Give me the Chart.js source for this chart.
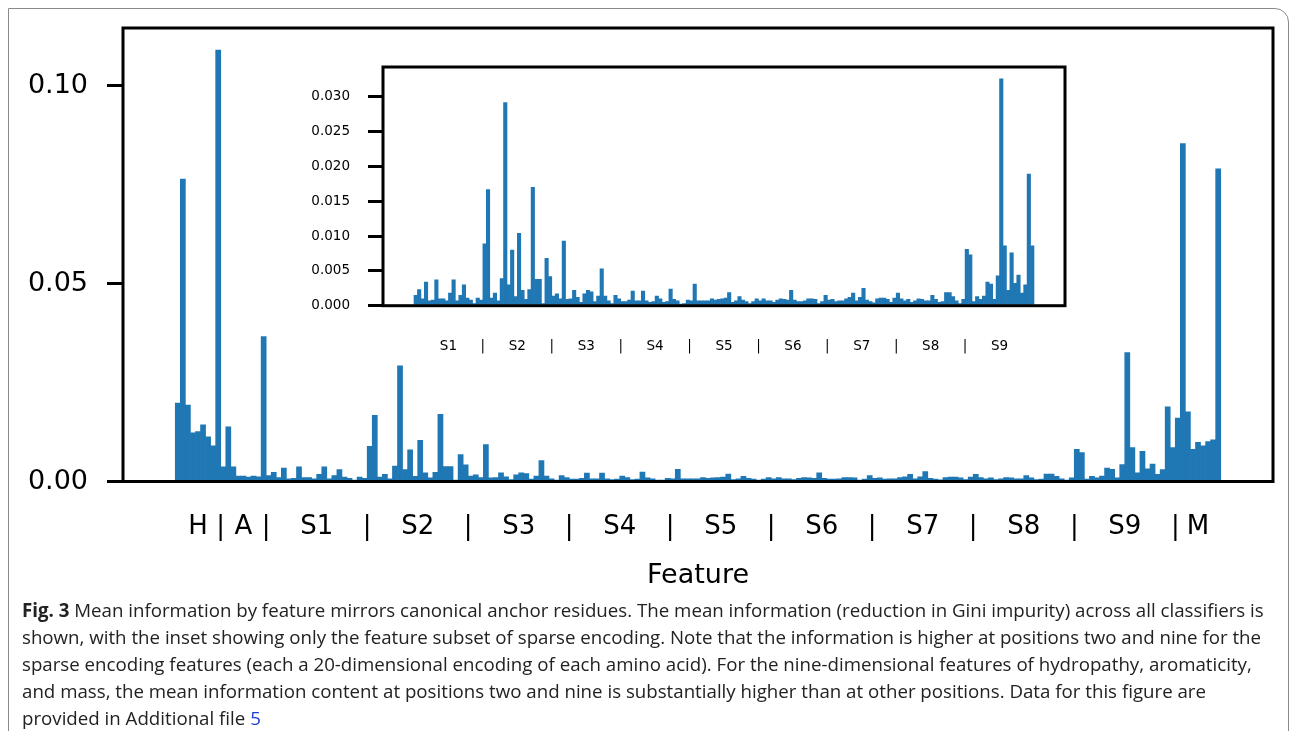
<!DOCTYPE html>
<html>
<head>
<meta charset="utf-8">
<script src="https://cdn.jsdelivr.net/npm/chart.js@4"></script>
<style>
  body { margin: 0; background: #fff; width: 1290px; height: 731px; overflow: hidden; position: relative; }
  #frame { position: absolute; left: 8px; top: 8px; width: 1279px; height: 760px; border: 1px solid #8a8a8a; border-top-right-radius: 14px; }
  #main, #inset { position: absolute; left: 0; top: 0; }
  #caption { position: absolute; left: 22px; top: 596px; font-family: "Open Sans", sans-serif; font-size: 18.7px; line-height: 27px; color: #222; white-space: nowrap; }
  #caption a { color: #1a3fd6; text-decoration: none; }
</style>
</head>
<body>
<div id="frame"></div>
<canvas id="main" width="1290" height="600"></canvas>
<canvas id="inset" width="1290" height="380"></canvas>
<div id="caption">
<b>Fig. 3</b> Mean information by feature mirrors canonical anchor residues. The mean information (reduction in Gini impurity) across all classifiers is<br>
shown, with the inset showing only the feature subset of sparse encoding. Note that the information is higher at positions two and nine for the<br>
sparse encoding features (each a 20-dimensional encoding of each amino acid). For the nine-dimensional features of hydropathy, aromaticity,<br>
and mass, the mean information content at positions two and nine is substantially higher than at other positions. Data for this figure are<br>
provided in Additional file <a>5</a>
</div>
<script>
// valeurs
const hydropathy = [0.0198, 0.0764, 0.0193, 0.0123, 0.0126, 0.0143, 0.0113, 0.0090, 0.1090];
const aromaticity = [0.0037, 0.0138, 0.0037, 0.0014, 0.0014, 0.0011, 0.0014, 0.0012, 0.0366];
const s1 = [0.0015, 0.0023, 0.0010, 0.0034, 0.0007, 0.0008, 0.0037, 0.0010, 0.0010, 0.0007, 0.0018, 0.0037, 0.0007, 0.0015, 0.0030, 0.0011, 0.0008, 0.0003, 0.0011, 0.0008];
const s2 = [0.0089, 0.0167, 0.0011, 0.0018, 0.0007, 0.0039, 0.0292, 0.0030, 0.0080, 0.0013, 0.0104, 0.0022, 0.0009, 0.0023, 0.0170, 0.0038, 0.0038, 0.0003, 0.0068, 0.0042];
const s3 = [0.0014, 0.0017, 0.0010, 0.0093, 0.0009, 0.0010, 0.0022, 0.0012, 0.0005, 0.0017, 0.0022, 0.0020, 0.0006, 0.0014, 0.0053, 0.0014, 0.0007, 0.0003, 0.0015, 0.0010];
const s4 = [0.0006, 0.0006, 0.0008, 0.0021, 0.0007, 0.0007, 0.0021, 0.0007, 0.0005, 0.0006, 0.0014, 0.0010, 0.0005, 0.0006, 0.0024, 0.0009, 0.0007, 0.0002, 0.0003, 0.0008];
const s5 = [0.0007, 0.0031, 0.0007, 0.0007, 0.0007, 0.0007, 0.0010, 0.0008, 0.0009, 0.0010, 0.0011, 0.0019, 0.0005, 0.0007, 0.0013, 0.0008, 0.0006, 0.0003, 0.0006, 0.0010];
const s6 = [0.0007, 0.0010, 0.0007, 0.0007, 0.0005, 0.0008, 0.0010, 0.0009, 0.0008, 0.0022, 0.0008, 0.0006, 0.0006, 0.0007, 0.0010, 0.0010, 0.0009, 0.0003, 0.0006, 0.0015];
const s7 = [0.0008, 0.0009, 0.0006, 0.0007, 0.0007, 0.0010, 0.0012, 0.0018, 0.0007, 0.0012, 0.0025, 0.0008, 0.0006, 0.0004, 0.0010, 0.0011, 0.0011, 0.0009, 0.0005, 0.0011];
const s8 = [0.0018, 0.0010, 0.0007, 0.0009, 0.0005, 0.0007, 0.0010, 0.0009, 0.0007, 0.0007, 0.0015, 0.0009, 0.0005, 0.0006, 0.0019, 0.0019, 0.0013, 0.0007, 0.0003, 0.0009];
const s9 = [0.0081, 0.0073, 0.0006, 0.0013, 0.0009, 0.0014, 0.0034, 0.0031, 0.0009, 0.0043, 0.0326, 0.0086, 0.0022, 0.0076, 0.0032, 0.0044, 0.0018, 0.0030, 0.0189, 0.0086];
const mass = [0.0160, 0.0854, 0.0176, 0.0081, 0.0099, 0.0090, 0.0101, 0.0105, 0.0790];

const mainGroups = ["H", "A", "S1", "S2", "S3", "S4", "S5", "S6", "S7", "S8", "S9", "M"];
const insetGroups = ["S1", "S2", "S3", "S4", "S5", "S6", "S7", "S8", "S9"];
const mainYTicks = [0, 0.05, 0.10];
const insetYTicks = [0, 0.005, 0.010, 0.015, 0.020, 0.025, 0.030];

const sparse = [s1, s2, s3, s4, s5, s6, s7, s8, s9];
const mainSeries = [hydropathy, aromaticity, ...sparse, mass];

const BLUE = "#1f77b4";
const FONT = "DejaVu Sans";

// points {x,y} : chaque barre au centre de sa case
function toPoints(series) {
    const pts = [];
    series.flat().forEach((v, i) => pts.push({ x: i + 0.5, y: v }));
    return pts;
}

// ticks du bas : nom du groupe au milieu, "|" entre les groupes
function groupTicks(names, series) {
    const ticks = [];
    let start = 0;
    series.forEach((s, g) => {
        ticks.push({ value: start + s.length / 2, label: names[g] });
        start += s.length;
        if (g < series.length - 1) ticks.push({ value: start, label: "|" });
    });
    return ticks;
}

const mainXTicks = groupTicks(mainGroups, mainSeries);
const insetXTicks = groupTicks(insetGroups, sparse);

const framePlugin = {
    id: "frame",
    afterDatasetsDraw(chart) {
        const { ctx, chartArea: a } = chart;
        ctx.save();
        ctx.strokeStyle = "#000";
        ctx.lineWidth = 3;
        ctx.strokeRect(a.left, a.top, a.right - a.left, a.bottom - a.top);
        ctx.restore();
    }
};

function makeChart(id, series, xTicks, yTicks, o) {
    const n = series.flat().length;
    const pad = n * 0.05;
    return new Chart(document.getElementById(id), {
        type: "bar",
        data: {
            datasets: [{
                data: toPoints(series),
                backgroundColor: BLUE,
                borderWidth: 0,
                barPercentage: 1,
                categoryPercentage: 1
            }]
        },
        options: {
            responsive: false,
            animation: false,
            events: [],
            layout: { padding: o.padding },
            plugins: { legend: { display: false }, tooltip: { enabled: false } },
            scales: {
                x: {
                    type: "linear",
                    offset: false,
                    min: -pad,
                    max: n + pad,
                    afterBuildTicks: s => { s.ticks = xTicks.map(t => ({ value: t.value })); },
                    afterFit: s => { s.height = o.xHeight; s.paddingLeft = 0; s.paddingRight = 0; },
                    border: { display: false },
                    grid: { display: false, offset: false },
                    ticks: {
                        autoSkip: false,
                        maxRotation: 0,
                        padding: o.xPad,
                        color: "#000",
                        font: { family: FONT, size: o.xFont },
                        callback: (v, i) => xTicks[i].label
                    },
                    title: o.title
                },
                y: {
                    min: 0,
                    max: o.yMax,
                    afterBuildTicks: s => { s.ticks = yTicks.map(v => ({ value: v })); },
                    afterFit: s => { s.width = o.yWidth; s.paddingTop = 0; s.paddingBottom = 0; },
                    border: { display: false },
                    grid: { drawOnChartArea: false, tickLength: o.tickLen, lineWidth: 3, color: "#000" },
                    ticks: {
                        padding: o.yPad,
                        color: "#000",
                        font: { family: FONT, size: o.yFont },
                        callback: v => v.toFixed(o.digits)
                    }
                }
            }
        },
        plugins: [framePlugin]
    });
}

makeChart("main", mainSeries, mainXTicks, mainYTicks, {
    padding: { left: 0, top: 28, right: 17, bottom: 0 },
    xHeight: 118.5, xPad: 22, xFont: 26,
    yWidth: 123, yPad: 19, yFont: 27, tickLen: 16,
    yMax: 0.1146, digits: 2,
    title: { display: true, text: "Feature", color: "#000", font: { family: FONT, size: 27 }, padding: { top: 0, bottom: 8 } }
});

makeChart("inset", sparse, insetXTicks, insetYTicks, {
    padding: { left: 300, top: 67, right: 225, bottom: 0 },
    xHeight: 74.3, xPad: 25, xFont: 13.5,
    yWidth: 83, yPad: 18, yFont: 13.5, tickLen: 15,
    yMax: 0.0343, digits: 3,
    title: { display: false }
});
</script>
</body>
</html>
